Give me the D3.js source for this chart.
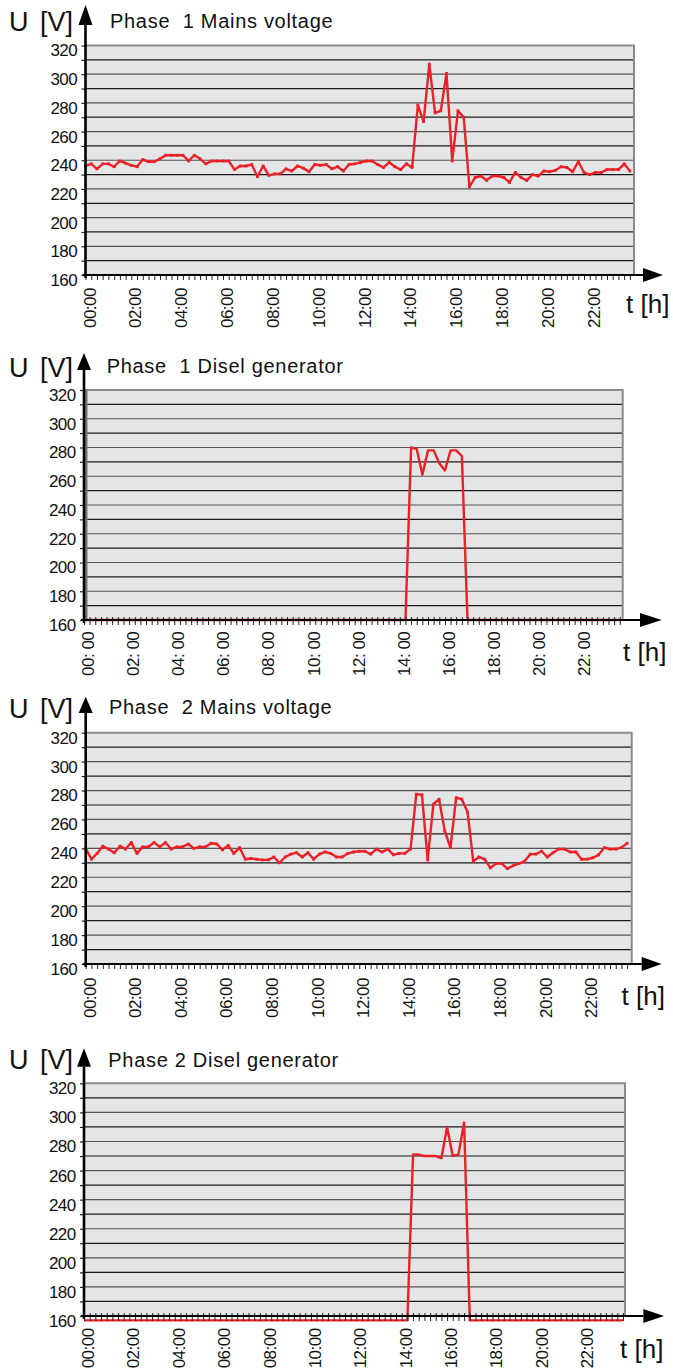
<!DOCTYPE html>
<html>
<head>
<meta charset="utf-8">
<script src="https://cdn.jsdelivr.net/npm/d3@7/dist/d3.min.js"></script>
<style>
html,body{margin:0;padding:0;background:#fff;}
svg{display:block;}
text{font-family:"Liberation Sans", Arial, Helvetica, sans-serif;fill:#111;}
</style>
</head>
<body>
<svg id="chart" width="673" height="1371"></svg>
<script>
// ---- data (one sample every 15 minutes, 00:00 .. 23:45) ----
const sampleHours = d3.range(0, 24, 0.25);
const hourTicks = [0, 2, 4, 6, 8, 10, 12, 14, 16, 18, 20, 22];
const voltageTicks = [160, 180, 200, 220, 240, 260, 280, 300, 320];
const titles = ["Phase  1 Mains voltage", "Phase  1 Disel generator", "Phase  2 Mains voltage", "Phase 2 Disel generator"];

const phase1Mains = [
  236, 237.5, 234, 237.5, 237.5, 235.5, 239.5, 238, 236.5, 235.5, 240.5, 239,
  239, 241, 243.5, 243.5, 243.5, 243.5, 239.5, 243.5, 241, 237.5, 239.5, 239.5,
  239.5, 239.5, 233.5, 236, 236, 237, 228.5, 236, 229.5, 230.5, 230.5, 234,
  232.5, 236, 234.5, 232, 237, 236.5, 237, 234, 235.5, 232.5, 237, 237.5,
  238.5, 239.5, 239.5, 237, 235, 238.5, 235.5, 233.5, 237.5, 235, 278.5, 267,
  307, 273, 274.5, 300.5, 239.5, 274.5, 270, 221.5, 228, 229, 226, 229,
  229, 228, 224.5, 231.5, 228, 226, 230, 229, 232.5, 232, 233, 235.5,
  235, 232, 239, 231.5, 230, 231.5, 231.5, 233.5, 233.5, 233.5, 237.5, 232.5
];
const phase1Diesel = [
  160, 160, 160, 160, 160, 160, 160, 160, 160, 160, 160, 160,
  160, 160, 160, 160, 160, 160, 160, 160, 160, 160, 160, 160,
  160, 160, 160, 160, 160, 160, 160, 160, 160, 160, 160, 160,
  160, 160, 160, 160, 160, 160, 160, 160, 160, 160, 160, 160,
  160, 160, 160, 160, 160, 160, 160, 160, 160, 160, 280, 279,
  261, 278, 278, 269, 264, 278, 278, 274, 160, 160, 160, 160,
  160, 160, 160, 160, 160, 160, 160, 160, 160, 160, 160, 160,
  160, 160, 160, 160, 160, 160, 160, 160, 160, 160, 160, 160
];
const phase2Mains = [
  240, 232.5, 236.5, 241.5, 239.5, 237, 241.5, 239.5, 244, 236.5, 241, 241,
  244, 241, 244, 239.5, 241, 241, 243, 240, 241, 241, 243.5, 243,
  239, 242, 236.5, 240.5, 232.5, 233, 232.5, 232, 232, 234, 230, 234,
  236, 237, 234, 237, 232.5, 236, 237.5, 236.5, 234, 234, 236.5, 237.5,
  238, 238, 236, 239.5, 237.5, 239.5, 235.5, 236.5, 236.5, 239.5, 277.5, 277,
  232, 270.5, 274, 252, 240.5, 275, 274, 265, 231, 234, 232.5, 226.5,
  229.5, 229.5, 226, 228, 229.5, 231, 236, 236, 238, 234, 237, 239.5,
  239.5, 237.5, 237.5, 232.5, 232.5, 233.5, 235.5, 240.5, 239.5, 239.5, 240.5, 243.5
];
const phase2Diesel = [
  157, 157, 157, 157, 157, 157, 157, 157, 157, 157, 157, 157,
  157, 157, 157, 157, 157, 157, 157, 157, 157, 157, 157, 157,
  157, 157, 157, 157, 157, 157, 157, 157, 157, 157, 157, 157,
  157, 157, 157, 157, 157, 157, 157, 157, 157, 157, 157, 157,
  157, 157, 157, 157, 157, 157, 157, 157, 157, 157, 271, 271,
  270, 270, 270, 268.5, 290, 270, 271, 293, 157, 157, 157, 157,
  157, 157, 157, 157, 157, 157, 157, 157, 157, 157, 157, 157,
  157, 157, 157, 157, 157, 157, 157, 157, 157, 157, 157, 157
];
const seriesList = [phase1Mains, phase1Diesel, phase2Mains, phase2Diesel];

// ---- layout (positions / styles) ----
const layouts = [
  {axisX:85.5, right:634,   yTop:45.5,   yBot:275,  tipY:5,      baseY:25,     uY:31,     titleX:110,   titleY:27.5,   xTip:663,   xBase:643,   labTop:288,   thX:626,   thY:313,   xEnd:23.93, sep:":",  markers:true,  grayLeft:false, tickUp:0},
  {axisX:84,   right:622.7, yTop:390,    yBot:620,  tipY:353,    baseY:370,    uY:376.5,  titleX:106.7, titleY:373.3,  xTip:661.7, xBase:640,   labTop:631.7, thX:623,   thY:661,   xEnd:23.88, sep:": ", markers:false, grayLeft:true,  tickUp:3},
  {axisX:85.7, right:631.7, yTop:732.7,  yBot:964,  tipY:696.7,  baseY:713,    uY:718,    titleX:109,   titleY:714.3,  xTip:661.7, xBase:641.7, labTop:978,   thX:621.5, thY:1005,  xEnd:23.95, sep:":",  markers:true,  grayLeft:false, tickUp:0},
  {axisX:84,   right:625,   yTop:1083.3, yBot:1316, tipY:1048.3, baseY:1066.7, uY:1069.3, titleX:108.3, titleY:1067.3, xTip:664,   xBase:643.3, labTop:1328.3,thX:620,   thY:1358.3,xEnd:23.84, sep:":",  markers:false, grayLeft:false, tickUp:3}
];

const svg = d3.select("#chart");
const RED = "#ec2027";

layouts.forEach((L, ci) => {
  const values = seriesList[ci];
  const data = sampleHours.map((h, i) => ({h, v: values[i]}));
  const x = d3.scaleLinear().domain([0, L.xEnd]).range([L.axisX, L.right]);
  const y = d3.scaleLinear().domain([160, 320]).range([L.yBot, L.yTop]);
  const g = svg.append("g");

  // plot background
  g.append("rect").attr("x", L.axisX).attr("y", L.yTop)
    .attr("width", L.right - L.axisX).attr("height", L.yBot - L.yTop)
    .attr("fill", "#e4e5e7");

  // gridlines every 10 V
  const grid = d3.range(170, 320, 10);
  g.selectAll(".grid").data(grid).join("line")
    .attr("x1", L.axisX).attr("x2", L.right)
    .attr("y1", d => y(d)).attr("y2", d => y(d))
    .attr("stroke", (d, i) => i % 2 ? "#555" : "#1a1a1a").attr("stroke-width", 1.2);

  // top/right border
  g.append("path")
    .attr("d", `M${L.axisX},${y(320)}H${L.right}V${y(160)}`)
    .attr("fill", "none").attr("stroke", "#8a8a8a").attr("stroke-width", 2);
  if (L.grayLeft) {
    g.append("line").attr("x1", L.axisX + 2).attr("x2", L.axisX + 2)
      .attr("y1", y(320)).attr("y2", y(160))
      .attr("stroke", "#777").attr("stroke-width", 3);
  }

  // red data line
  const line = d3.line().x(d => x(d.h)).y(d => y(d.v));
  g.append("path").datum(data).attr("d", line)
    .attr("fill", "none").attr("stroke", RED).attr("stroke-width", 2.4)
    .attr("stroke-linejoin", "round");
  if (L.markers) {
    g.selectAll(".pt").data(data).join("rect")
      .attr("x", d => x(d.h) - 1.4).attr("y", d => y(d.v) - 1.4)
      .attr("width", 2.8).attr("height", 2.8).attr("fill", RED);
  }

  // y axis ticks + labels
  const yAxis = d3.axisLeft(y).tickValues(d3.range(160, 321, 10))
    .tickSize(4).tickPadding(4.5)
    .tickFormat(d => voltageTicks.includes(d) ? d : "");
  const ya = g.append("g").attr("transform", `translate(${L.axisX},0)`).call(yAxis);
  ya.select(".domain").remove();
  ya.selectAll("line").attr("stroke", "#222").attr("stroke-width", 1.2);
  ya.selectAll("text").attr("dy", "0.32em").attr("y", 5)
    .style("font-size", "17px").style("letter-spacing", "-0.6px").attr("fill", "#111");

  // x axis minor ticks
  const xTicks = d3.axisBottom(x).tickValues(d3.range(0, L.xEnd, 0.25))
    .tickSize(5 + L.tickUp).tickFormat("");
  const xt = g.append("g").attr("transform", `translate(0,${L.yBot - L.tickUp})`).call(xTicks);
  xt.select(".domain").remove();
  xt.selectAll("line").attr("stroke", "#222").attr("stroke-width", 1);

  // x axis labels (rotated)
  const xLab = d3.axisBottom(x).tickValues(hourTicks).tickSize(0)
    .tickFormat(h => d3.format("02")(h) + L.sep + "00");
  const xl = g.append("g").attr("transform", `translate(0,${L.yBot})`).call(xLab);
  xl.select(".domain").remove();
  xl.selectAll("text")
    .attr("transform", "rotate(-90)")
    .attr("x", -(L.labTop - L.yBot)).attr("y", 9.5).attr("dy", 0)
    .attr("text-anchor", "end")
    .style("font-size", "17px").style("letter-spacing", "-0.5px")
    .style("white-space", "pre").attr("fill", "#111");

  // axis lines with arrows
  g.append("line").attr("x1", L.axisX - 3).attr("x2", L.xBase)
    .attr("y1", L.yBot).attr("y2", L.yBot)
    .attr("stroke", "#000").attr("stroke-width", 2.2);
  g.append("path")
    .attr("d", `M${L.xTip},${L.yBot}L${L.xBase},${L.yBot - 7}L${L.xBase},${L.yBot + 7}Z`)
    .attr("fill", "#000");
  g.append("line").attr("x1", L.axisX).attr("x2", L.axisX)
    .attr("y1", L.yBot + 3).attr("y2", L.baseY)
    .attr("stroke", "#000").attr("stroke-width", 2.6);
  g.append("path")
    .attr("d", `M${L.axisX},${L.tipY}L${L.axisX - 7},${L.baseY}L${L.axisX + 7},${L.baseY}Z`)
    .attr("fill", "#000");

  // texts
  const u = g.append("text").attr("x", 9).attr("y", L.uY)
    .style("font-size", "27px").style("white-space", "pre");
  u.append("tspan").text("U");
  u.append("tspan").attr("dx", 4).text(" [V]");
  g.append("text").attr("x", L.titleX).attr("y", L.titleY)
    .style("font-size", "20px").style("letter-spacing", "0.7px")
    .style("white-space", "pre").text(titles[ci]);
  g.append("text").attr("x", L.thX).attr("y", L.thY)
    .style("font-size", "26px").style("white-space", "pre").text("t [h]");
});
</script>
</body>
</html>
